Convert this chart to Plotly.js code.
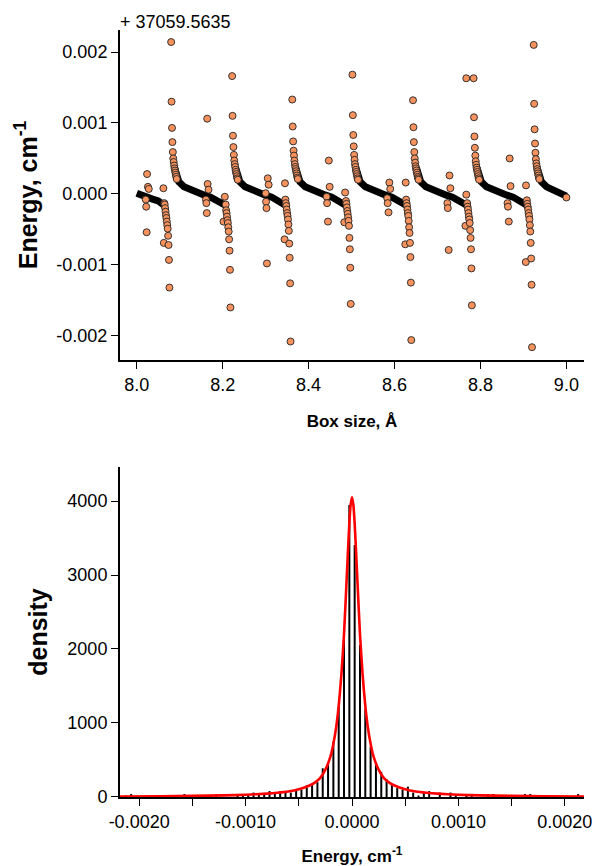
<!DOCTYPE html>
<html><head><meta charset="utf-8">
<script src="https://cdn.plot.ly/plotly-3.0.1.min.js"></script>
<style>html,body{margin:0;padding:0;background:#fff}#chart{width:595px;height:866px}</style>
</head><body><div id="chart"></div>
<script>
// ---------- top panel: energy vs box size (offset from 37059.5635) ----------
const energyOffsetLabel = "+ 37059.5635";

// dense part of the series (looks like a thick black band)
const bandX = [
 8.000, 8.010, 8.023, 8.035, 8.050, 8.058, 8.064, null,
 8.088, 8.092, 8.098, 8.110, 8.125, 8.140, 8.156, 8.172, 8.187, 8.198, 8.206, null,
 8.230, 8.234, 8.240, 8.252, 8.267, 8.282, 8.298, 8.314, 8.329, 8.340, 8.346, null,
 8.370, 8.374, 8.380, 8.392, 8.407, 8.422, 8.438, 8.454, 8.469, 8.480, 8.486, null,
 8.510, 8.514, 8.520, 8.532, 8.547, 8.562, 8.578, 8.594, 8.609, 8.620, 8.627, null,
 8.651, 8.655, 8.661, 8.673, 8.688, 8.703, 8.719, 8.735, 8.750, 8.761, 8.768, null,
 8.792, 8.796, 8.802, 8.814, 8.829, 8.844, 8.860, 8.876, 8.891, 8.902, 8.908, null,
 8.932, 8.936, 8.942, 8.954, 8.969, 8.984, 9.000
];
const bandY = [
 0.01e-3, -0.02e-3, -0.05e-3, -0.07e-3, -0.10e-3, -0.13e-3, -0.16e-3, null,
 0.37e-3, 0.25e-3, 0.17e-3, 0.10e-3, 0.056e-3, 0.024e-3, -0.014e-3, -0.045e-3, -0.09e-3, -0.13e-3, -0.16e-3, null,
 0.37e-3, 0.25e-3, 0.17e-3, 0.10e-3, 0.056e-3, 0.024e-3, -0.014e-3, -0.045e-3, -0.09e-3, -0.13e-3, -0.16e-3, null,
 0.37e-3, 0.25e-3, 0.17e-3, 0.10e-3, 0.056e-3, 0.024e-3, -0.014e-3, -0.045e-3, -0.09e-3, -0.13e-3, -0.16e-3, null,
 0.37e-3, 0.25e-3, 0.17e-3, 0.10e-3, 0.056e-3, 0.024e-3, -0.014e-3, -0.045e-3, -0.09e-3, -0.13e-3, -0.16e-3, null,
 0.37e-3, 0.25e-3, 0.17e-3, 0.10e-3, 0.056e-3, 0.024e-3, -0.014e-3, -0.045e-3, -0.09e-3, -0.13e-3, -0.16e-3, null,
 0.37e-3, 0.25e-3, 0.17e-3, 0.10e-3, 0.056e-3, 0.024e-3, -0.014e-3, -0.045e-3, -0.09e-3, -0.13e-3, -0.16e-3, null,
 0.37e-3, 0.25e-3, 0.17e-3, 0.10e-3, 0.056e-3, 0.024e-3, -0.03e-3
];

// separated points (near the discontinuities)
const pointX = [
 8.021, 8.022, 8.023, 8.024, 8.026, 8.028,
 8.062, 8.063,
 8.064, 8.065, 8.066, 8.067, 8.068, 8.069, 8.070, 8.071, 8.072, 8.073, 8.074, 8.075, 8.076,
 8.080, 8.081, 8.082, 8.083, 8.084, 8.085, 8.086, 8.087, 8.088, 8.089, 8.090, 8.091, 8.092, 8.093,
 8.161, 8.162, 8.163, 8.164, 8.165, 8.167,
 8.205, 8.202,
 8.207, 8.208, 8.209, 8.210, 8.211, 8.212, 8.213, 8.214, 8.215, 8.216, 8.217, 8.218,
 8.222, 8.223, 8.224, 8.225, 8.226, 8.227, 8.228, 8.229, 8.230, 8.231, 8.232, 8.233, 8.234, 8.235,
 8.300, 8.301, 8.302, 8.303, 8.305, 8.307,
 8.345, 8.344,
 8.346, 8.347, 8.348, 8.349, 8.350, 8.351, 8.352, 8.353, 8.354, 8.355, 8.356, 8.357, 8.358,
 8.362, 8.363, 8.364, 8.365, 8.366, 8.367, 8.368, 8.369, 8.370, 8.371, 8.372, 8.373, 8.374, 8.375,
 8.442, 8.443, 8.445, 8.447, 8.449,
 8.485, 8.483,
 8.487, 8.488, 8.489, 8.490, 8.491, 8.492, 8.493, 8.494, 8.495, 8.496, 8.497, 8.498,
 8.502, 8.503, 8.504, 8.505, 8.506, 8.507, 8.508, 8.509, 8.510, 8.511, 8.512, 8.513, 8.514, 8.515,
 8.583, 8.584, 8.586, 8.588, 8.590,
 8.626, 8.625,
 8.627, 8.628, 8.629, 8.630, 8.631, 8.632, 8.633, 8.634, 8.635, 8.636, 8.637, 8.638, 8.639,
 8.643, 8.644, 8.645, 8.646, 8.647, 8.648, 8.649, 8.650, 8.651, 8.652, 8.653, 8.654, 8.655, 8.656,
 8.723, 8.724, 8.726, 8.728, 8.730,
 8.767, 8.767, 8.765,
 8.769, 8.770, 8.771, 8.772, 8.773, 8.774, 8.775, 8.776, 8.777, 8.778, 8.779, 8.780,
 8.784, 8.785, 8.786, 8.787, 8.788, 8.789, 8.790, 8.791, 8.792, 8.793, 8.794, 8.795, 8.796, 8.797,
 8.863, 8.864, 8.866, 8.868, 8.870,
 8.906, 8.9055,
 8.908, 8.909, 8.910, 8.911, 8.912, 8.913, 8.914, 8.915, 8.916, 8.917, 8.918, 8.919, 8.920,
 8.924, 8.925, 8.926, 8.927, 8.928, 8.929, 8.930, 8.931, 8.932, 8.933, 8.934, 8.935, 8.936, 8.937,
 9.000
];
const pointY = [
 -0.08e-3, -0.18e-3, -0.54e-3, 0.28e-3, 0.10e-3, 0.07e-3,
 0.08e-3, -0.69e-3,
 -0.13e-3, -0.15e-3, -0.20e-3, -0.25e-3, -0.30e-3, -0.34e-3, -0.39e-3, -0.44e-3, -0.49e-3, -0.59e-3, -0.72e-3, -0.93e-3, -1.32e-3,
 2.14e-3, 1.30e-3, 0.93e-3, 0.73e-3, 0.59e-3, 0.50e-3, 0.45e-3, 0.40e-3, 0.36e-3, 0.33e-3, 0.30e-3, 0.27e-3, 0.24e-3, 0.21e-3,
 -0.08e-3, -0.13e-3, -0.27e-3, 1.06e-3, 0.14e-3, 0.06e-3,
 -0.04e-3, -0.39e-3,
 -0.15e-3, -0.23e-3, -0.27e-3, -0.32e-3, -0.37e-3, -0.41e-3, -0.47e-3, -0.53e-3, -0.64e-3, -0.80e-3, -1.07e-3, -1.60e-3,
 1.66e-3, 1.10e-3, 0.82e-3, 0.66e-3, 0.55e-3, 0.47e-3, 0.42e-3, 0.38e-3, 0.34e-3, 0.31e-3, 0.28e-3, 0.25e-3, 0.22e-3, 0.20e-3,
 0.01e-3, -0.11e-3, -0.20e-3, -0.98e-3, 0.22e-3, 0.13e-3,
 0.15e-3, -0.64e-3,
 -0.08e-3, -0.13e-3, -0.17e-3, -0.22e-3, -0.27e-3, -0.31e-3, -0.36e-3, -0.43e-3, -0.52e-3, -0.70e-3, -0.90e-3, -1.26e-3, -2.08e-3,
 1.33e-3, 0.95e-3, 0.74e-3, 0.61e-3, 0.54e-3, 0.47e-3, 0.42e-3, 0.38e-3, 0.35e-3, 0.32e-3, 0.29e-3, 0.26e-3, 0.23e-3, 0.21e-3,
 -0.04e-3, -0.13e-3, -0.39e-3, 0.47e-3, 0.10e-3,
 0.02e-3, -0.40e-3,
 -0.10e-3, -0.14e-3, -0.19e-3, -0.24e-3, -0.28e-3, -0.33e-3, -0.38e-3, -0.45e-3, -0.62e-3, -0.78e-3, -1.04e-3, -1.55e-3,
 1.68e-3, 1.11e-3, 0.83e-3, 0.67e-3, 0.55e-3, 0.48e-3, 0.42e-3, 0.38e-3, 0.34e-3, 0.31e-3, 0.28e-3, 0.25e-3, 0.22e-3, 0.20e-3,
 -0.06e-3, -0.13e-3, -0.26e-3, 0.16e-3, 0.07e-3,
 0.16e-3, -0.71e-3,
 -0.08e-3, -0.13e-3, -0.17e-3, -0.22e-3, -0.27e-3, -0.31e-3, -0.38e-3, -0.47e-3, -0.55e-3, -0.69e-3, -0.89e-3, -1.25e-3, -2.06e-3,
 1.32e-3, 0.94e-3, 0.73e-3, 0.59e-3, 0.50e-3, 0.44e-3, 0.39e-3, 0.36e-3, 0.33e-3, 0.30e-3, 0.27e-3, 0.24e-3, 0.22e-3, 0.20e-3,
 -0.13e-3, -0.20e-3, -0.79e-3, 0.26e-3, 0.08e-3,
 -0.01e-3, 1.63e-3, -0.45e-3,
 -0.13e-3, -0.18e-3, -0.22e-3, -0.27e-3, -0.32e-3, -0.36e-3, -0.41e-3, -0.51e-3, -0.62e-3, -0.78e-3, -1.05e-3, -1.57e-3,
 1.63e-3, 1.08e-3, 0.81e-3, 0.65e-3, 0.54e-3, 0.46e-3, 0.41e-3, 0.37e-3, 0.34e-3, 0.31e-3, 0.28e-3, 0.25e-3, 0.22e-3, 0.20e-3,
 -0.13e-3, -0.18e-3, -0.39e-3, 0.50e-3, 0.11e-3,
 0.12e-3, -0.96e-3,
 -0.09e-3, -0.14e-3, -0.18e-3, -0.22e-3, -0.27e-3, -0.31e-3, -0.36e-3, -0.44e-3, -0.53e-3, -0.69e-3, -0.91e-3, -1.28e-3, -2.16e-3,
 2.10e-3, 1.27e-3, 0.91e-3, 0.71e-3, 0.58e-3, 0.49e-3, 0.43e-3, 0.39e-3, 0.35e-3, 0.32e-3, 0.29e-3, 0.26e-3, 0.23e-3, 0.21e-3,
 -0.05e-3
];

const topXTicks = [8.0, 8.2, 8.4, 8.6, 8.8, 9.0];
const topXLabels = ["8.0", "8.2", "8.4", "8.6", "8.8", "9.0"];
const topYTicks = [-0.002, -0.001, 0, 0.001, 0.002];
const topYLabels = ["-0.002", "-0.001", "0.000", "0.001", "0.002"];

// ---------- bottom panel: density histogram + fitted curve ----------
const histX = [
 -0.002125, -0.002075, -0.001625, -0.001575, -0.001325, -0.001275, -0.001075, -0.001025,
 -0.000975, -0.000925, -0.000875, -0.000825, -0.000775, -0.000725, -0.000675, -0.000625,
 -0.000575, -0.000525, -0.000475, -0.000425, -0.000375, -0.000325, -0.000275, -0.000225,
 -0.000175, -0.000125, -0.000075, -0.000025,
 0.000025, 0.000075, 0.000125, 0.000175, 0.000225, 0.000275, 0.000325, 0.000375,
 0.000425, 0.000475, 0.000525, 0.000575, 0.000625, 0.000675, 0.000725, 0.000825,
 0.000925, 0.000975, 0.001075, 0.001125, 0.001275, 0.001325, 0.001625, 0.001675, 0.002125
];
const histY = [
 20, 40, 20, 40, 20, 40, 20, 40,
 40, 60, 40, 40, 80, 60, 80, 80,
 60, 100, 100, 160, 180, 200, 388, 455,
 747, 1220, 2280, 3946,
 3405, 2054, 1185, 680, 470, 340, 240, 160,
 120, 100, 140, 60, 20, 60, 80, 60,
 60, 20, 40, 40, 40, 40, 40, 40, 40
];
const fitX = [
 -0.0022, -0.0018, -0.0015, -0.0012, -0.0010, -0.0008, -0.0007, -0.0006, -0.0005, -0.0004,
 -0.00035, -0.0003, -0.00025, -0.0002, -0.000175, -0.00015, -0.000125, -0.0001, -0.000075,
 -0.00005, -0.000025, -0.0000125, 0,
 0.0000125, 0.000025, 0.00005, 0.000075, 0.0001, 0.000125, 0.00015, 0.000175, 0.0002,
 0.00025, 0.0003, 0.00035, 0.0004, 0.0005, 0.0006, 0.0007, 0.0008, 0.0010, 0.0012, 0.0015,
 0.0018, 0.0022
];
const fitY = [
 7, 10, 15, 22, 31, 46, 58, 75, 105, 155,
 195, 255, 370, 560, 720, 930, 1230, 1650, 2200,
 2950, 3700, 3950, 4050,
 3950, 3700, 2950, 2200, 1650, 1230, 930, 720, 560,
 370, 255, 195, 155, 105, 75, 58, 46, 31, 22, 15,
 10, 7
];
const botXTicks = [-0.002, -0.001, 0, 0.001, 0.002];
const botXLabels = ["-0.0020", "-0.0010", "0.0000", "0.0010", "0.0020"];
const botXMinorTicks = [-0.0015, -0.0005, 0.0005, 0.0015];
const botYTicks = [0, 1000, 2000, 3000, 4000];
const botYLabels = ["0", "1000", "2000", "3000", "4000"];

// histogram drawn as vertical spikes (type = "h")
const spikeX = [], spikeY = [];
histX.forEach((x, i) => { spikeX.push(x, x, null); spikeY.push(0, histY[i], null); });

const FONT = "Liberation Sans, Arial, Helvetica, sans-serif";
const traces = [
  {x: bandX, y: bandY, xaxis: "x", yaxis: "y", mode: "lines", type: "scatter",
   line: {color: "#000", width: 7}, connectgaps: false, hoverinfo: "skip", showlegend: false},
  {x: pointX, y: pointY, xaxis: "x", yaxis: "y", mode: "markers", type: "scatter",
   marker: {color: "#f5925e", size: 7, line: {color: "#222", width: 0.9}}, showlegend: false},
  {x: spikeX, y: spikeY, xaxis: "x2", yaxis: "y2", mode: "lines", type: "scatter",
   line: {color: "#000", width: 2}, connectgaps: false, showlegend: false},
  {x: fitX, y: fitY, xaxis: "x2", yaxis: "y2", mode: "lines", type: "scatter",
   line: {color: "#ff0000", width: 2.6, shape: "spline", smoothing: 0.6}, showlegend: false}
];

const axBase = {showline: true, linecolor: "#000", linewidth: 2, ticks: "outside", ticklen: 7,
  tickwidth: 1, tickcolor: "#000", showgrid: false, zeroline: false, mirror: false,
  tickfont: {family: FONT, size: 18, color: "#000"}, tickmode: "array", automargin: false};

const layout = {
  width: 595, height: 866,
  margin: {l: 120, r: 11, t: 30, b: 69},
  paper_bgcolor: "#fff", plot_bgcolor: "#fff",
  font: {family: FONT, color: "#000"},
  showlegend: false,
  xaxis: Object.assign({}, axBase, {domain: [0, 1], anchor: "y", range: [7.961, 9.041],
    tickvals: topXTicks, ticktext: topXLabels,
    title: {text: "<b>Box size, Å</b>", font: {family: FONT, size: 17}, standoff: 22}}),
  yaxis: Object.assign({}, axBase, {domain: [0.5698, 1], anchor: "x", range: [-0.00234, 0.00231],
    tickvals: topYTicks, ticktext: topYLabels,
    title: {text: "<b>Energy, cm<sup>-1</sup></b>", font: {family: FONT, size: 25}, standoff: 12}}),
  xaxis2: Object.assign({}, axBase, {domain: [0, 1], anchor: "y2", range: [-0.00218, 0.00218],
    tickvals: botXTicks, ticktext: botXLabels,
    minor: {tickmode: "array", tickvals: botXMinorTicks, ticks: "outside", ticklen: 7,
      tickwidth: 1, tickcolor: "#000", showgrid: false},
    title: {text: "<b>Energy, cm<sup>-1</sup></b>", font: {family: FONT, size: 17}, standoff: 22}}),
  yaxis2: Object.assign({}, axBase, {domain: [0, 0.4302], anchor: "x2", range: [0, 4459],
    tickvals: botYTicks, ticktext: botYLabels,
    title: {text: "<b>density</b>", font: {family: FONT, size: 25}, standoff: 13}}),
  annotations: [{text: energyOffsetLabel, xref: "paper", yref: "paper", x: -0.005, y: 1.0108,
    xanchor: "left", yanchor: "middle", showarrow: false, font: {family: FONT, size: 18, color: "#000"}}]
};

Plotly.newPlot("chart", traces, layout, {displayModeBar: false, staticPlot: true});
</script>
</body></html>
